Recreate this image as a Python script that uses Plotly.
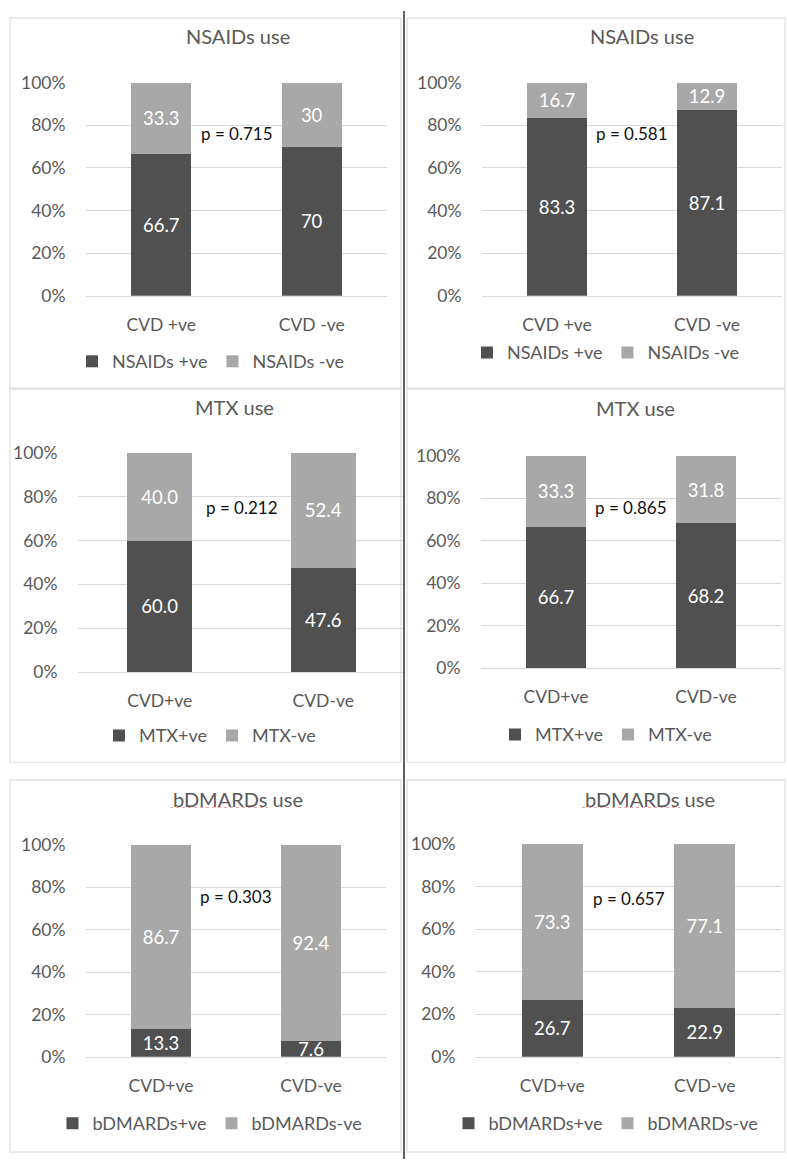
import plotly.graph_objects as go

W, H = 787, 1169

titles = ["NSAIDs use", "NSAIDs use", "MTX use", "MTX use", "bDMARDs use", "bDMARDs use"]
categories = [
    ["CVD +ve", "CVD -ve"],
    ["CVD +ve", "CVD -ve"],
    ["CVD+ve", "CVD-ve"],
    ["CVD+ve", "CVD-ve"],
    ["CVD+ve", "CVD-ve"],
    ["CVD+ve", "CVD-ve"],
]
pos_names = ["NSAIDs +ve", "NSAIDs +ve", "MTX+ve", "MTX+ve", "bDMARDs+ve", "bDMARDs+ve"]
neg_names = ["NSAIDs -ve", "NSAIDs -ve", "MTX-ve", "MTX-ve", "bDMARDs-ve", "bDMARDs-ve"]
pos_values = [
    [66.7, 70],
    [83.3, 87.1],
    [60.0, 47.6],
    [66.7, 68.2],
    [13.3, 7.6],
    [26.7, 22.9],
]
neg_values = [
    [33.3, 30],
    [16.7, 12.9],
    [40.0, 52.4],
    [33.3, 31.8],
    [86.7, 92.4],
    [73.3, 77.1],
]
p_values = ["p = 0.715", "p = 0.581", "p = 0.212", "p = 0.865", "p = 0.303", "p = 0.657"]
y_ticks = [0, 20, 40, 60, 80, 100]
y_tick_labels = ["0%", "20%", "40%", "60%", "80%", "100%"]

# ---- layout geometry (pixels) ----
plot_boxes = [  # x0, x1, ytop(100%), ybottom(0%)
    (86, 387, 73, 290),
    (482, 782, 73, 290),
    (78, 405, 450, 673),
    (481, 781, 453, 669),
    (86, 386, 849, 1065),
    (476, 781, 848, 1065),
]
title_pos = [(238, 25), (642, 25), (235, 403), (635, 404), (238, 802), (650, 802)]
legend_pos = [(211, 357), (606, 348), (210, 738), (606, 737), (210, 1133), (606, 1133)]
p_y = [76, 76, 75, 75.5, 75.5, 74.5]
label_fmt = ["%{y:.1~f}", "%{y:.1f}", "%{y:.1f}", "%{y:.1f}", "%{y:.1f}", "%{y:.1f}"]

DARK = "#505050"
LIGHT = "#a8a8a8"
TXT = "#595959"
GRID = "#d9d9d9"
FONT = "Lato"


def px_x(v):
    return v / W


def px_y(v):
    return 1 - v / H


fig = go.Figure()
layout = dict(
    width=W, height=H,
    margin=dict(l=0, r=0, t=0, b=0),
    paper_bgcolor="white", plot_bgcolor="white",
    barmode="stack", bargap=0.6,
    font=dict(family=FONT, color=TXT, size=17),
    showlegend=True,
)
annotations = []
shapes = []

for i in range(6):
    k = "" if i == 0 else str(i + 1)
    xa, ya = "x" + k, "y" + k
    leg = "legend" + k
    for vals, name, col in ((pos_values[i], pos_names[i], DARK), (neg_values[i], neg_names[i], LIGHT)):
        fig.add_trace(go.Bar(
            x=categories[i], y=vals, name=name,
            marker=dict(color=col, line=dict(width=0)),
            xaxis=xa, yaxis=ya, legend=leg,
            texttemplate=label_fmt[i], textposition="inside",
            insidetextanchor="middle", constraintext="none",
            textfont=dict(color="white", size=18.5, family=FONT),
            cliponaxis=True, hoverinfo="skip",
        ))
    x0, x1, yt, yb = plot_boxes[i]
    layout["xaxis" + k] = dict(
        domain=[px_x(x0), px_x(x1)], anchor=ya, type="category",
        range=[-0.5, 1.5], showgrid=False, showline=True, linecolor=GRID, linewidth=1,
        ticks="outside", ticklen=13, tickcolor="rgba(0,0,0,0)",
        tickfont=dict(size=17.5, color=TXT, family=FONT), fixedrange=True,
    )
    layout["yaxis" + k] = dict(
        domain=[px_y(yb), px_y(yt)], anchor=xa, range=[0, 100],
        tickmode="array", tickvals=y_ticks, ticktext=y_tick_labels,
        showgrid=True, gridcolor=GRID, gridwidth=1,
        zeroline=False, showline=False,
        ticks="outside", ticklen=16, tickcolor="rgba(0,0,0,0)",
        tickfont=dict(size=17.5, color=TXT, family=FONT), fixedrange=True,
    )
    lx, ly = legend_pos[i]
    layout[leg] = dict(
        orientation="h", x=px_x(lx), y=px_y(ly), xanchor="center", yanchor="middle",
        xref="paper", yref="paper", bgcolor="rgba(0,0,0,0)",
        font=dict(size=18, color=TXT, family=FONT), traceorder="normal",
        itemwidth=30,
    )
    tx, ty = title_pos[i]
    annotations.append(dict(
        text=titles[i], x=px_x(tx), y=px_y(ty), xref="paper", yref="paper",
        xanchor="center", yanchor="middle", showarrow=False,
        font=dict(size=20, color=TXT, family=FONT),
    ))
    annotations.append(dict(
        text=p_values[i], x=0.5, y=p_y[i], xref=xa, yref=ya,
        xanchor="center", yanchor="middle", showarrow=False,
        font=dict(size=17, color="#111111", family=FONT),
    ))

# panel frames
rows = [(7, 384), (385, 765), (783, 1162)]
for (t, b) in rows:
    for (l, r) in ((10, 401), (407, 785)):
        shapes.append(dict(type="rect", xref="paper", yref="paper",
                           x0=px_x(l), x1=px_x(r), y0=px_y(b), y1=px_y(t),
                           line=dict(color="#dedede", width=1.2), layer="below"))
# dark divider
shapes.append(dict(type="line", xref="paper", yref="paper",
                   x0=px_x(404), x1=px_x(404), y0=0, y1=1,
                   line=dict(color="#3a3a3a", width=1.6)))
# spell-check squiggles under "bDMARDs"
for (a, b) in ((170, 268), (582, 680)):
    shapes.append(dict(type="line", xref="paper", yref="paper",
                       x0=px_x(a), x1=px_x(b), y0=px_y(811), y1=px_y(811),
                       line=dict(color="#e3a0a0", width=1, dash="dot")))

layout["annotations"] = annotations
layout["shapes"] = shapes
fig.update_layout(**layout)
fig.write_html("out.html",
               config={"displayModeBar": False, "staticPlot": True},
               post_script="document.body.style.margin='0';document.body.style.overflow='hidden';")
